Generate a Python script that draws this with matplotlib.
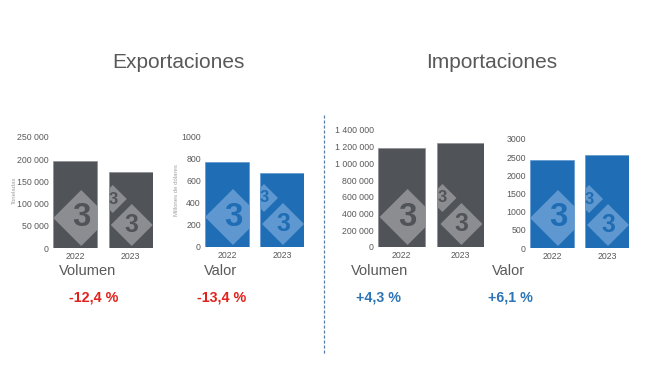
import matplotlib.pyplot as plt
from matplotlib.patches import Polygon
import matplotlib.transforms as mtransforms

plt.rcParams["font.family"] = ["Liberation Sans", "DejaVu Sans"]

# data
years = ["2022", "2023"]
exp_volumen = [195000, 171000]   # toneladas
exp_valor = [775, 671]           # millones de dolares
imp_volumen = [1190000, 1241000]
imp_valor = [2420, 2568]
variaciones = ["-12,4 %", "-13,4 %", "+4,3 %", "+6,1 %"]
etiquetas = ["Volumen", "Valor", "Volumen", "Valor"]

GRAY = "#505358"
BLUE = "#1f6db4"
TXT = "#595959"
RED = "#e3211c"
PBLUE = "#2e75b6"

W, H = 650, 366
fig = plt.figure(figsize=(6.5, 3.66), dpi=100)


def add_axes(left, right, top, bottom):
    return fig.add_axes([left / W, 1 - bottom / H, (right - left) / W, (bottom - top) / H])


def fmt(v, space):
    s = f"{int(v):,}"
    return s.replace(",", " ") if space else s.replace(",", "")


def watermark(ax, bars, wcol, bcol):
    # 333 logo pieces, in pixel offsets from bar centre / baseline
    pieces = [(0, 6, 30, 28), (1, -18, 49, 14), (1, 1, 23, 21)]
    for i, dx, dy, r in pieces:
        bar = bars[i]
        base = mtransforms.ScaledTranslation(i, 0, ax.transData)
        tr = mtransforms.Affine2D().translate(dx, dy) + base
        d = Polygon([(0, r), (r, 0), (0, -r), (-r, 0)], closed=True,
                    transform=tr, facecolor=wcol, edgecolor="none", zorder=3)
        ax.add_patch(d)
        d.set_clip_path(bar)
        t = ax.text(0, 0, "3", transform=tr, ha="center", va="center",
                    fontsize=r * 0.85, fontweight="bold", color=bcol, zorder=4)
        t.set_clip_path(bar)


def chart(box, vals, top, step, space, color, wcol, ylabel, ylab_x):
    ax = add_axes(*box)
    bars = ax.bar([0, 1], vals, width=0.8, color=color, edgecolor=wcol, linewidth=0.5, zorder=2)
    ax.set_xlim(-0.4, 1.4)
    ax.set_ylim(0, top)
    ticks = list(range(0, top + 1, step))
    ax.set_yticks(ticks)
    ax.set_yticklabels([fmt(v, space) for v in ticks])
    ax.set_xticks([0, 1])
    ax.set_xticklabels(years)
    ax.tick_params(length=0, labelsize=6.3, labelcolor=TXT, pad=3)
    for s in ax.spines.values():
        s.set_visible(False)
    watermark(ax, bars, wcol, color)
    if ylabel:
        fig.text(ylab_x / W, 1 - 190 / H, ylabel, rotation=90, fontsize=4.3,
                 color="#a0a0a0", ha="center", va="center")
    return ax


chart((53, 153, 137, 248), exp_volumen, 250000, 50000, True, GRAY, "#8b8d90", "Toneladas", 14)
chart((205, 304, 137, 247), exp_valor, 1000, 200, False, BLUE, "#5f97d0", "Millones de dólares", 176)
chart((378, 484, 130, 247), imp_volumen, 1400000, 200000, True, GRAY, "#8b8d90", None, 0)
chart((530, 629, 139, 248), imp_valor, 3000, 500, False, BLUE, "#5f97d0", None, 0)

# titles
fig.text(178 / W, 1 - 63 / H, "Exportaciones", fontsize=15, color=TXT, ha="center", va="center")
fig.text(492 / W, 1 - 63 / H, "Importaciones", fontsize=15, color=TXT, ha="center", va="center")

# labels and variations
lab_x = [88, 220, 380, 508]
pct_x = [94, 222, 379, 510]
pct_c = [RED, RED, PBLUE, PBLUE]
for lx, px, lab, pct, c in zip(lab_x, pct_x, etiquetas, variaciones, pct_c):
    fig.text(lx / W, 1 - 271 / H, lab, fontsize=10.5, color=TXT, ha="center", va="center")
    fig.text(px / W, 1 - 298 / H, pct, fontsize=10.3, color=c, fontweight="bold",
             ha="center", va="center")

# divider
fig.add_artist(plt.Line2D([324 / W, 324 / W], [1 - 115 / H, 1 - 355 / H],
                          transform=fig.transFigure, color="#5a80aa",
                          linestyle=(0, (2.5, 1.5)), linewidth=0.9))

fig.savefig("out.png", dpi=100)
